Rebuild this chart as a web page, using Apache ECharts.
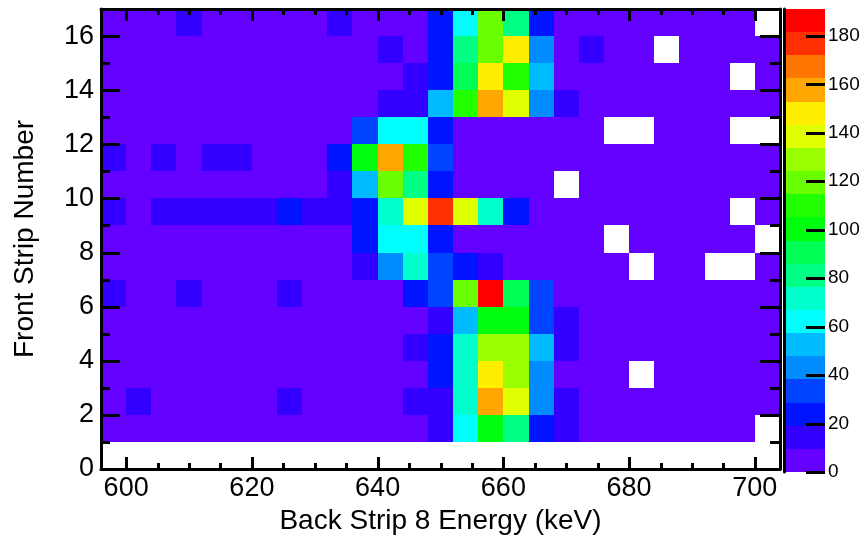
<!DOCTYPE html>
<html><head><meta charset="utf-8">
<script src="https://cdn.jsdelivr.net/npm/echarts@6/dist/echarts.min.js"></script>
<style>html,body{margin:0;padding:0;background:#fff}#c{width:864px;height:538px}</style>
</head><body><div id="c"></div>
<script>
// ---- data ----
var energyEdges = [596,600,604,608,612,616,620,624,628,632,636,640,644,648,652,656,660,664,668,672,676,680,684,688,692,696,700,704];
var stripNumbers = [1,2,3,4,5,6,7,8,9,10,11,12,13,14,15,16];
var strip1  = [5,5,5,5,5,5,5,5,5,5,5,5,5,14,62,100,81,24,14,5,5,5,5,5,5,5,0];
var strip2  = [5,14,5,5,5,5,5,14,5,5,5,5,14,14,72,158,138,43,14,5,5,5,5,5,5,5,5];
var strip3  = [5,5,5,5,5,5,5,5,5,5,5,5,5,24,72,148,129,43,5,5,5,0,5,5,5,5,5];
var strip4  = [5,5,5,5,5,5,5,5,5,5,5,5,14,24,72,129,129,53,14,5,5,5,5,5,5,5,5];
var strip5  = [5,5,5,5,5,5,5,5,5,5,5,5,5,14,53,100,100,33,14,5,5,5,5,5,5,5,5];
var strip6  = [14,5,5,14,5,5,5,14,5,5,5,5,24,33,119,182,91,33,5,5,5,5,5,5,5,5,5];
var strip7  = [5,5,5,5,5,5,5,5,5,5,14,43,72,33,24,14,5,5,5,5,5,0,5,5,0,0,5];
var strip8  = [5,5,5,5,5,5,5,5,5,5,24,62,62,24,5,5,5,5,5,5,0,5,5,5,5,5,0];
var strip9  = [14,5,14,14,14,14,14,24,14,14,24,72,138,177,138,72,24,5,5,5,5,5,5,5,5,0,5];
var strip10 = [5,5,5,5,5,5,5,5,5,14,53,119,81,24,5,5,5,5,0,5,5,5,5,5,5,5,5];
var strip11 = [14,5,14,5,14,14,5,5,5,24,100,158,110,33,5,5,5,5,5,5,5,5,5,5,5,5,5];
var strip12 = [5,5,5,5,5,5,5,5,5,5,33,62,62,24,5,5,5,5,5,5,0,0,5,5,5,0,0];
var strip13 = [5,5,5,5,5,5,5,5,5,5,5,14,14,53,110,158,138,43,14,5,5,5,5,5,5,5,5];
var strip14 = [5,5,5,5,5,5,5,5,5,5,5,5,14,24,91,148,110,53,5,5,5,5,5,5,5,0,5];
var strip15 = [5,5,5,5,5,5,5,5,5,5,5,14,5,24,81,119,148,43,5,14,5,5,0,5,5,5,5];
var strip16 = [5,5,5,14,5,5,5,5,5,14,5,5,5,24,62,119,81,24,5,5,5,5,5,5,5,5,0];

var xMajorTicks = [600,620,640,660,680,700];
var xMinorTicks = [605,610,615,625,630,635,645,650,655,665,670,675,685,690,695];
var yMajorTicks = [0,2,4,6,8,10,12,14,16];
var yMinorTicks = [1,3,5,7,9,11,13,15,17];
var zTicks = [0,20,40,60,80,100,120,140,160,180];
var zMax = 191.1;
var palette = ['#6300ff','#3300ff','#0014ff','#0044ff','#008bff','#00bbff','#00fffc','#00ffcc','#00ff85','#00ff55',
               '#00ff0e','#22ff00','#69ff00','#99ff00','#e0ff00','#ffee00','#ffa700','#ff7700','#ff3000','#ff0000'];

// ---- build ----
var strips = [strip1,strip2,strip3,strip4,strip5,strip6,strip7,strip8,strip9,strip10,strip11,strip12,strip13,strip14,strip15,strip16];
var cells = [];
strips.forEach(function(row, i){
  row.forEach(function(v, j){
    if (v > 0) cells.push([energyEdges[j], energyEdges[j+1], stripNumbers[i], stripNumbers[i]+1, v]);
  });
});
var nLevels = palette.length;
var step = zMax / nLevels;
var pieces = [], levels = [];
for (var k = 0; k < nLevels; k++) {
  pieces.push({gte: k*step, lt: (k+1)*step + (k === nLevels-1 ? 1 : 0), color: palette[k]});
  levels.push([k*step, (k+1)*step]);
}

var FONT = 'Liberation Sans, Arial, Helvetica, sans-serif';
var xMin = energyEdges[0], xMax = energyEdges[energyEdges.length-1];
var yMin = 0, yMax = 17;
var GRID_MAIN = {left: 101, top: 9, width: 679, height: 460};

function rectFrom(p0, p1) {
  var x0 = Math.round(p0[0]), y0 = Math.round(p0[1]);
  var x1 = Math.round(p1[0]), y1 = Math.round(p1[1]);
  return {x: x0, y: y0, width: x1 - x0, height: y1 - y0};
}

function frameAxis(kind, pos, withLabels) {
  var ax = {
    type: 'value', gridIndex: 0, position: pos, z: 10,
    min: kind === 'x' ? xMin : yMin, max: kind === 'x' ? xMax : yMax,
    axisLine: {show: true, onZero: false, lineStyle: {color: '#000', width: 3}},
    axisTick: {show: false},
    axisLabel: {show: false},
    splitLine: {show: false}
  };
  if (withLabels) {
    var ticks = kind === 'x' ? xMajorTicks : yMajorTicks;
    ax.axisLabel = {show: true, customValues: ticks, fontSize: 27, fontFamily: FONT, color: '#000', margin: kind === 'x' ? 6 : 7};
    ax.name = kind === 'x' ? 'Back Strip 8 Energy (keV)' : 'Front Strip Number';
    ax.nameLocation = 'middle';
    ax.nameGap = kind === 'x' ? 36 : 62;
    if (kind === 'y') ax.nameRotate = 90;
    ax.nameTextStyle = {fontSize: 28, fontFamily: FONT, color: '#000'};
  }
  return ax;
}

// tick-mark custom series on the overlay grid (axes index 3 share the main grid's ranges)
function tickSeries(values, side, len, xi, yi, edge) {
  var horiz = (side === 'bottom' || side === 'top');
  return {
    type: 'custom', xAxisIndex: xi, yAxisIndex: yi, z: 50, silent: true, clip: false, progressive: 0,
    data: values.map(function (v) { return horiz ? [v, edge] : [edge, v]; }),
    encode: {x: 0, y: 1},
    renderItem: function (params, api) {
      var p = api.coord([api.value(0), api.value(1)]);
      var shape;
      if (horiz) {
        var x = Math.round(p[0]) + 0.5;
        shape = {x1: x, y1: p[1], x2: x, y2: side === 'bottom' ? p[1] - len : p[1] + len};
      } else {
        var y = Math.round(p[1]) + 0.5;
        shape = {x1: p[0], y1: y, x2: side === 'left' ? p[0] + len : p[0] - len, y2: y};
      }
      return {type: 'line', shape: shape, style: {stroke: '#000', lineWidth: 3}};
    }
  };
}

var chart = echarts.init(document.getElementById('c'), null, {renderer: 'canvas'});
chart.setOption({
  animation: false,
  backgroundColor: '#fff',
  grid: [
    {left: GRID_MAIN.left, top: GRID_MAIN.top, width: GRID_MAIN.width, height: GRID_MAIN.height, containLabel: false, outerBoundsMode: 'none'},
    {left: 784, top: 9, width: 41, height: 463, containLabel: false, outerBoundsMode: 'none'},
    {left: GRID_MAIN.left, top: GRID_MAIN.top, width: GRID_MAIN.width, height: GRID_MAIN.height, containLabel: false, outerBoundsMode: 'none'}
  ],
  xAxis: [
    frameAxis('x', 'bottom', true),
    frameAxis('x', 'top', false),
    {type: 'value', gridIndex: 1, min: 0, max: 1, show: false},
    {type: 'value', gridIndex: 2, min: xMin, max: xMax, show: false}
  ],
  yAxis: [
    frameAxis('y', 'left', true),
    frameAxis('y', 'right', false),
    {
      type: 'value', gridIndex: 1, position: 'right', min: 0, max: zMax, z: 10,
      axisLine: {show: true, lineStyle: {color: '#000', width: 3}},
      axisTick: {show: false},
      axisLabel: {show: true, customValues: zTicks, fontSize: 19, fontFamily: FONT, color: '#000', margin: 3},
      splitLine: {show: false}
    },
    {type: 'value', gridIndex: 2, min: yMin, max: yMax, show: false}
  ],
  visualMap: [{type: 'piecewise', show: false, dimension: 4, seriesIndex: [0], pieces: pieces}],
  series: [
    {
      type: 'custom', xAxisIndex: 0, yAxisIndex: 0, data: cells, clip: false, z: 1, progressive: 0,
      encode: {x: [0, 1], y: [2, 3]},
      renderItem: function (params, api) {
        var p0 = api.coord([api.value(0), api.value(3)]);
        var p1 = api.coord([api.value(1), api.value(2)]);
        return {type: 'rect', shape: rectFrom(p0, p1), style: {fill: api.visual('color'), stroke: null}};
      }
    },
    {
      type: 'custom', xAxisIndex: 2, yAxisIndex: 2, data: levels, z: 1, progressive: 0,
      encode: {y: [0, 1]},
      renderItem: function (params, api) {
        var p0 = api.coord([0, api.value(1)]);
        var p1 = api.coord([1, api.value(0)]);
        return {type: 'rect', shape: rectFrom(p0, p1), style: {fill: palette[params.dataIndex], stroke: null}};
      }
    },
    tickSeries(xMajorTicks, 'bottom', 12, 3, 3, yMin),
    tickSeries(xMinorTicks, 'bottom', 6, 3, 3, yMin),
    tickSeries(xMajorTicks, 'top', 12, 3, 3, yMax),
    tickSeries(xMinorTicks, 'top', 6, 3, 3, yMax),
    tickSeries(yMajorTicks, 'left', 19, 3, 3, xMin),
    tickSeries(yMinorTicks, 'left', 9, 3, 3, xMin),
    tickSeries(yMajorTicks, 'right', 20, 3, 3, xMax),
    tickSeries(yMinorTicks, 'right', 10, 3, 3, xMax)
  ]
});

// additional tick marks as graphics, placed through the chart's own scales
var tickEls = [];
function toPixel(finders, pt) {
  for (var i = 0; i < finders.length; i++) {
    var p = null;
    try { p = chart.convertToPixel(finders[i], pt); } catch (e) { p = null; }
    if (p && isFinite(p[0]) && isFinite(p[1])) return p;
  }
  return null;
}
function addTicks(finders, values, side, len, edge) {
  values.forEach(function (v) {
    var pt = (side === 'bottom' || side === 'top') ? [v, edge] : [edge, v];
    var p = toPixel(finders, pt);
    if (!p) return;
    var shape;
    if (side === 'bottom' || side === 'top') {
      var x = Math.round(p[0]) + 0.5;
      shape = {x1: x, y1: p[1], x2: x, y2: side === 'bottom' ? p[1] - len : p[1] + len};
    } else {
      var y = Math.round(p[1]) + 0.5;
      shape = {x1: p[0], y1: y, x2: side === 'left' ? p[0] + len : p[0] - len, y2: y};
    }
    tickEls.push({type: 'line', shape: shape, style: {stroke: '#000', lineWidth: 3}, z: 100, silent: true});
  });
}
var mainFinders = [{xAxisIndex: 3, yAxisIndex: 3}, {gridIndex: 2}, {xAxisIndex: 0, yAxisIndex: 0}, {seriesIndex: 0}];
var barFinders = [{xAxisIndex: 2, yAxisIndex: 2}, {gridIndex: 1}];
addTicks(mainFinders, xMajorTicks, 'bottom', 12, yMin);
addTicks(mainFinders, xMinorTicks, 'bottom', 6, yMin);
addTicks(mainFinders, xMajorTicks, 'top', 12, yMax);
addTicks(mainFinders, xMinorTicks, 'top', 6, yMax);
addTicks(mainFinders, yMajorTicks, 'left', 19, xMin);
addTicks(mainFinders, yMinorTicks, 'left', 9, xMin);
addTicks(mainFinders, yMajorTicks, 'right', 20, xMax);
addTicks(mainFinders, yMinorTicks, 'right', 10, xMax);
addTicks(barFinders, zTicks, 'right', 19, 1);
chart.setOption({graphic: {elements: tickEls}});
</script>
</body></html>
